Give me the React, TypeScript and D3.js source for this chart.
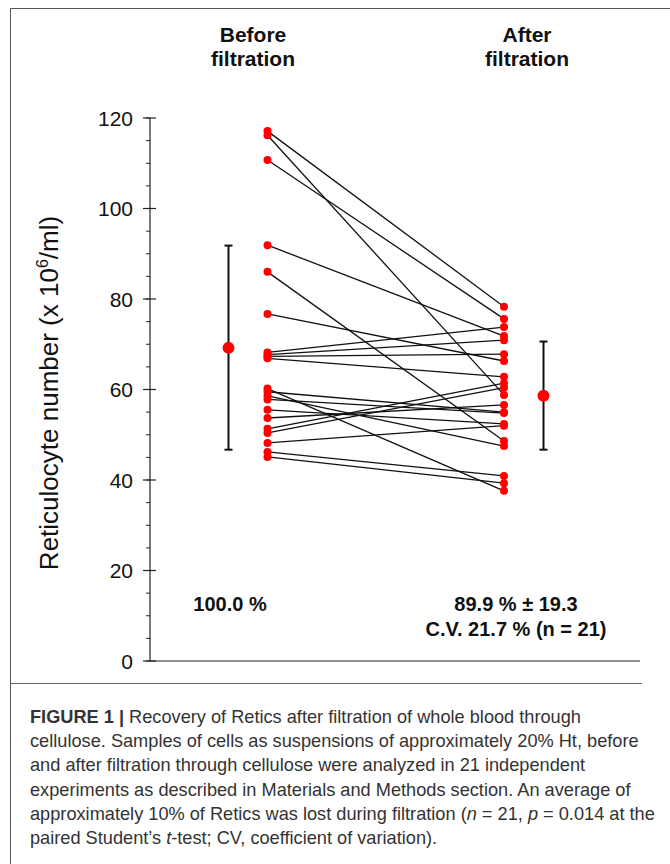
import React from "react";
import * as d3 from "d3";

const groups = ["Before\nfiltration", "After\nfiltration"];
const beforeValues = [117.1, 116.2, 110.7, 91.9, 86.0, 76.7, 68.2, 67.7, 67.3, 66.9, 60.2, 59.5, 58.6, 57.8, 55.5, 53.7, 51.3, 50.4, 48.2, 46.2, 45.1];
const afterValues = [78.3, 58.8, 75.6, 71.8, 48.6, 66.3, 73.8, 70.9, 67.8, 62.8, 37.6, 55.0, 47.5, 54.8, 52.4, 56.6, 61.4, 60.4, 52.0, 40.9, 39.3];
const meanValues = [69.2, 58.6];
const errLow = [46.7, 46.7];
const errHigh = [91.8, 70.6];
const yTicks = [0, 20, 40, 60, 80, 100, 120];
const minorTicks = d3.range(0, 121, 5);
const statLines = [["100.0 %"], ["89.9 % ± 19.3", "C.V. 21.7 % (n = 21)"]];
const caption = [
  "Recovery of Retics after filtration of whole blood through",
  "cellulose. Samples of cells as suspensions of approximately 20% Ht, before",
  "and after filtration through cellulose were analyzed in 21 independent",
  "experiments as described in Materials and Methods section. An average of",
  "approximately 10% of Retics was lost during filtration (",
  "paired Student’s ",
];

export default function App() {
  const W = 670, H = 864;
  const y = d3.scaleLinear().domain([0, 120]).range([661, 118]);
  const xPts = d3.scalePoint<number>().domain([0, 1]).range([267.5, 504]);
  const xMean = d3.scalePoint<number>().domain([0, 1]).range([228.5, 543.5]);
  const xHead = d3.scalePoint<number>().domain([0, 1]).range([253, 527]);
  const xStat = d3.scalePoint<number>().domain([0, 1]).range([230, 516]);
  const axisX = 150;
  const font = "Liberation Sans, Arial, sans-serif";
  const line = d3.line<[number, number]>();

  return (
    <svg width={W} height={H} style={{ position: "absolute", left: 0, top: 0, background: "#fff" }}>
      <rect x={0} y={0} width={W} height={H} fill="#fff" />
      {/* frame */}
      <line x1={10.5} y1={8.5} x2={W} y2={8.5} stroke="#555" strokeWidth={1} />
      <line x1={10.5} y1={8.5} x2={10.5} y2={H} stroke="#555" strokeWidth={1} />
      <line x1={10.5} y1={683.5} x2={642} y2={683.5} stroke="#666" strokeWidth={1} />

      {/* headers */}
      {groups.map((g, i) =>
        g.split("\n").map((t, j) => (
          <text key={`h${i}${j}`} x={xHead(i)} y={42 + j * 24} textAnchor="middle" fontFamily={font} fontWeight="bold" fontSize={21} fill="#111">
            {t}
          </text>
        ))
      )}

      {/* axes */}
      <line x1={axisX} y1={y(120)} x2={axisX} y2={y(0)} stroke="#222" strokeWidth={1.2} />
      <line x1={axisX} y1={y(0)} x2={640} y2={y(0)} stroke="#222" strokeWidth={1.2} />
      {minorTicks.map((t) => (
        <line key={`m${t}`} x1={axisX - 4} y1={y(t)} x2={axisX} y2={y(t)} stroke="#222" strokeWidth={1} />
      ))}
      {yTicks.map((t) => (
        <g key={`t${t}`}>
          <line x1={axisX - 7} y1={y(t)} x2={axisX + 6} y2={y(t)} stroke="#222" strokeWidth={1.2} />
          <text x={133} y={y(t) + 7.5} textAnchor="end" fontFamily={font} fontSize={21} fill="#111">
            {t}
          </text>
        </g>
      ))}
      <text transform={`translate(58,${393}) rotate(-90)`} textAnchor="middle" fontFamily={font} fontSize={26} fill="#111">
        Reticulocyte number (x 10<tspan dy={-10} fontSize={16}>6</tspan><tspan dy={10}>/ml)</tspan>
      </text>

      {/* paired lines */}
      {beforeValues.map((b, i) => (
        <path key={`l${i}`} d={line([[xPts(0)!, y(b)], [xPts(1)!, y(afterValues[i])]]) || ""} stroke="#111" strokeWidth={1.3} fill="none" />
      ))}
      {beforeValues.map((b, i) => (
        <circle key={`b${i}`} cx={xPts(0)} cy={y(b)} r={4} fill="#ff0000" />
      ))}
      {afterValues.map((a, i) => (
        <circle key={`a${i}`} cx={xPts(1)} cy={y(a)} r={4} fill="#ff0000" />
      ))}

      {/* means with error bars */}
      {meanValues.map((m, i) => (
        <g key={`e${i}`}>
          <line x1={xMean(i)} y1={y(errLow[i])} x2={xMean(i)} y2={y(errHigh[i])} stroke="#111" strokeWidth={2} />
          <line x1={xMean(i)! - 4} y1={y(errLow[i])} x2={xMean(i)! + 4} y2={y(errLow[i])} stroke="#111" strokeWidth={2} />
          <line x1={xMean(i)! - 4} y1={y(errHigh[i])} x2={xMean(i)! + 4} y2={y(errHigh[i])} stroke="#111" strokeWidth={2} />
          <circle cx={xMean(i)} cy={y(m)} r={6} fill="#ff0000" />
        </g>
      ))}

      {/* stats text */}
      {statLines.map((ls, i) =>
        ls.map((t, j) => (
          <text key={`s${i}${j}`} x={xStat(i)} y={611 + j * 25} textAnchor="middle" fontFamily={font} fontWeight="bold" fontSize={20} fill="#111">
            {t}
          </text>
        ))
      )}

      {/* caption */}
      <g fontFamily={font} fontSize={18.2} fill="#333">
        <text x={30} y={723}>
          <tspan fontWeight="bold">FIGURE 1 | </tspan>
          {caption[0]}
        </text>
        <text x={30} y={747}>{caption[1]}</text>
        <text x={30} y={771}>{caption[2]}</text>
        <text x={30} y={796}>{caption[3]}</text>
        <text x={30} y={820}>
          {caption[4]}
          <tspan fontStyle="italic">n</tspan> = 21, <tspan fontStyle="italic">p</tspan> = 0.014 at the
        </text>
        <text x={30} y={844}>
          {caption[5]}
          <tspan fontStyle="italic">t</tspan>-test; CV, coefficient of variation).
        </text>
      </g>
    </svg>
  );
}
